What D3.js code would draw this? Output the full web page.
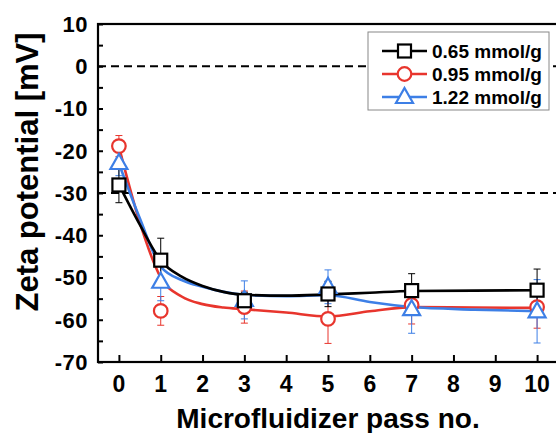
<!DOCTYPE html>
<html>
<head>
<meta charset="utf-8">
<script src="https://cdn.jsdelivr.net/npm/d3@7"></script>
<style>
  body { margin: 0; background: #fff; }
  text { font-family: "Liberation Sans", Arial, sans-serif; font-weight: bold; }
</style>
</head>
<body>
<svg id="chart" width="556" height="433"></svg>
<script>
// measured points
var passNo = [ 0, 1, 3, 5, 7, 10 ];
var zeta065 = [ -28.1, -45.9, -55.5, -53.9, -53.1, -53.0 ];
var err065 = [ 4.2, 5.2, 2.0, 3.0, 4.0, 5.0 ];
var zeta095 = [ -18.9, -57.9, -57.0, -59.8, -56.5, -57.0 ];
var err095 = [ 2.5, 3.4, 3.8, 5.8, 4.5, 5.0 ];
var zeta122 = [ -22.9, -51.0, -55.3, -52.2, -57.5, -58.0 ];
var err122 = [ 3.0, 4.5, 4.5, 4.0, 5.7, 7.5 ];

// fitted curves
var fitPass = [ 0, 0.5, 1, 1.5, 2, 2.5, 3, 4, 5, 6, 7, 8.5, 10 ];
var fit065 = [ -28, -37.5, -46, -49.8, -52, -53.4, -54.1, -54.3, -54, -53.6, -53.2, -53.1, -53 ];
var fit095 = [ -19, -37, -50, -54.5, -56.3, -57.1, -57.5, -58.3, -59.2, -58, -57, -57.1, -57.2 ];
var fit122 = [ -23, -36, -47.4, -50.6, -52.2, -53.4, -54.1, -54.4, -54.2, -55.8, -57, -57.6, -58 ];

var xTicks = [ 0, 1, 2, 3, 4, 5, 6, 7, 8, 9, 10 ];
var yTicks = [ 10, 0, -10, -20, -30, -40, -50, -60, -70 ];
var refLines = [ 0, -30 ];
var seriesNames = [ "0.65 mmol/g", "0.95 mmol/g", "1.22 mmol/g" ];

var svg = d3.select( "#chart" );
var x = d3.scaleLinear().domain( [ -0.5, 10.5 ] ).range( [ 98, 558 ] );
var y = d3.scaleLinear().domain( [ -70, 10 ] ).range( [ 362, 24 ] );

var series = [
    { name: seriesNames[ 0 ], vals: zeta065, errs: err065, fit: fit065, color: "#000000", shape: "square" },
    { name: seriesNames[ 1 ], vals: zeta095, errs: err095, fit: fit095, color: "#e8352d", shape: "circle" },
    { name: seriesNames[ 2 ], vals: zeta122, errs: err122, fit: fit122, color: "#3d7fe6", shape: "triangle" }
];

// dashed reference lines
svg.selectAll( ".ref" ).data( refLines ).enter().append( "line" )
    .attr( "x1", x( -0.5 ) ).attr( "x2", x( 10.5 ) )
    .attr( "y1", function( d ) { return y( d ); } )
    .attr( "y2", function( d ) { return y( d ); } )
    .attr( "stroke", "#000" ).attr( "stroke-width", 2 )
    .attr( "stroke-dasharray", "8,5" );

// axes (ticks inside)
var yAxis = d3.axisLeft( y ).tickValues( d3.range( -70, 11, 5 ) ).tickSize( -5 ).tickFormat( "" );
svg.append( "g" ).attr( "transform", "translate(" + x( -0.5 ) + ",0)" ).call( yAxis )
    .call( function( g ) { g.select( ".domain" ).remove(); g.selectAll( "line" ).attr( "stroke-width", 2 ); } );
var xAxis = d3.axisBottom( x ).tickValues( xTicks ).tickSize( -7 ).tickFormat( "" );
svg.append( "g" ).attr( "transform", "translate(0," + y( -70 ) + ")" ).call( xAxis )
    .call( function( g ) { g.select( ".domain" ).remove(); g.selectAll( "line" ).attr( "stroke-width", 2 ); } );

svg.append( "rect" )
    .attr( "x", x( -0.5 ) ).attr( "y", y( 10 ) )
    .attr( "width", x( 10.5 ) - x( -0.5 ) ).attr( "height", y( -70 ) - y( 10 ) )
    .attr( "fill", "none" ).attr( "stroke", "#000" ).attr( "stroke-width", 2.2 );

svg.selectAll( ".ylab" ).data( yTicks ).enter().append( "text" )
    .attr( "x", 88 ).attr( "y", function( d ) { return y( d ); } )
    .attr( "dy", "0.36em" ).attr( "text-anchor", "end" )
    .attr( "font-size", 22 ).attr( "letter-spacing", 0.5 )
    .text( function( d ) { return d; } );

svg.selectAll( ".xlab" ).data( xTicks ).enter().append( "text" )
    .attr( "x", function( d ) { return x( d ); } ).attr( "y", 392 )
    .attr( "text-anchor", "middle" ).attr( "font-size", 23 )
    .text( function( d ) { return d; } );

svg.append( "text" )
    .attr( "x", 328 ).attr( "y", 428 ).attr( "text-anchor", "middle" )
    .attr( "font-size", 28 ).text( "Microfluidizer pass no." );

svg.append( "text" )
    .attr( "transform", "translate(38,172) rotate(-90)" ).attr( "text-anchor", "middle" )
    .attr( "font-size", 31 ).text( "Zeta potential [mV]" );

// fit curves
var line = d3.line()
    .x( function( d ) { return x( d[ 0 ] ); } )
    .y( function( d ) { return y( d[ 1 ] ); } )
    .curve( d3.curveMonotoneX );

var order = [ 1, 2, 0 ];
order.forEach( function( i ) {
    var s = series[ i ];
    svg.append( "path" )
        .attr( "d", line( fitPass.map( function( p, k ) { return [ p, s.fit[ k ] ]; } ) ) )
        .attr( "fill", "none" ).attr( "stroke", s.color ).attr( "stroke-width", 2.6 );
} );

function drawMarker( g, shape, color ) {
    if ( shape === "square" ) {
        g.append( "rect" ).attr( "x", -6.5 ).attr( "y", -6.5 ).attr( "width", 13 ).attr( "height", 13 )
            .attr( "fill", "#fff" ).attr( "stroke", color ).attr( "stroke-width", 2.2 );
    } else if ( shape === "circle" ) {
        g.append( "circle" ).attr( "r", 6.8 )
            .attr( "fill", "#fff" ).attr( "stroke", color ).attr( "stroke-width", 2.2 );
    } else {
        g.append( "path" ).attr( "d", "M0,-9 L8.5,6 L-8.5,6 Z" )
            .attr( "fill", "#fff" ).attr( "stroke", color ).attr( "stroke-width", 2.2 );
    }
}

// error bars and markers
order.forEach( function( i ) {
    var s = series[ i ];
    var g = svg.append( "g" );
    passNo.forEach( function( p, k ) {
        var cx = x( p ), lo = y( s.vals[ k ] - s.errs[ k ] ), hi = y( s.vals[ k ] + s.errs[ k ] );
        g.append( "line" ).attr( "x1", cx ).attr( "x2", cx ).attr( "y1", lo ).attr( "y2", hi )
            .attr( "stroke", s.color ).attr( "stroke-width", 1 );
        [ lo, hi ].forEach( function( yy ) {
            g.append( "line" ).attr( "x1", cx - 3.5 ).attr( "x2", cx + 3.5 ).attr( "y1", yy ).attr( "y2", yy )
                .attr( "stroke", s.color ).attr( "stroke-width", 1 );
        } );
    } );
} );
order.forEach( function( i ) {
    var s = series[ i ];
    passNo.forEach( function( p, k ) {
        var m = svg.append( "g" ).attr( "transform", "translate(" + x( p ) + "," + y( s.vals[ k ] ) + ")" );
        drawMarker( m, s.shape, s.color );
    } );
} );

// legend
var leg = svg.append( "g" );
leg.append( "rect" ).attr( "x", 368 ).attr( "y", 32 ).attr( "width", 181 ).attr( "height", 78 )
    .attr( "fill", "#fff" ).attr( "stroke", "#888" ).attr( "stroke-width", 1 );
series.forEach( function( s, i ) {
    var ly = 51 + i * 23;
    leg.append( "line" ).attr( "x1", 382 ).attr( "x2", 427 ).attr( "y1", ly ).attr( "y2", ly )
        .attr( "stroke", s.color ).attr( "stroke-width", 2.6 );
    var m = leg.append( "g" ).attr( "transform", "translate(404.5," + ly + ")" );
    drawMarker( m, s.shape, s.color );
    leg.append( "text" ).attr( "x", 432 ).attr( "y", ly ).attr( "dy", "0.36em" )
        .attr( "font-size", 19 ).text( s.name );
} );
</script>
</body>
</html>
